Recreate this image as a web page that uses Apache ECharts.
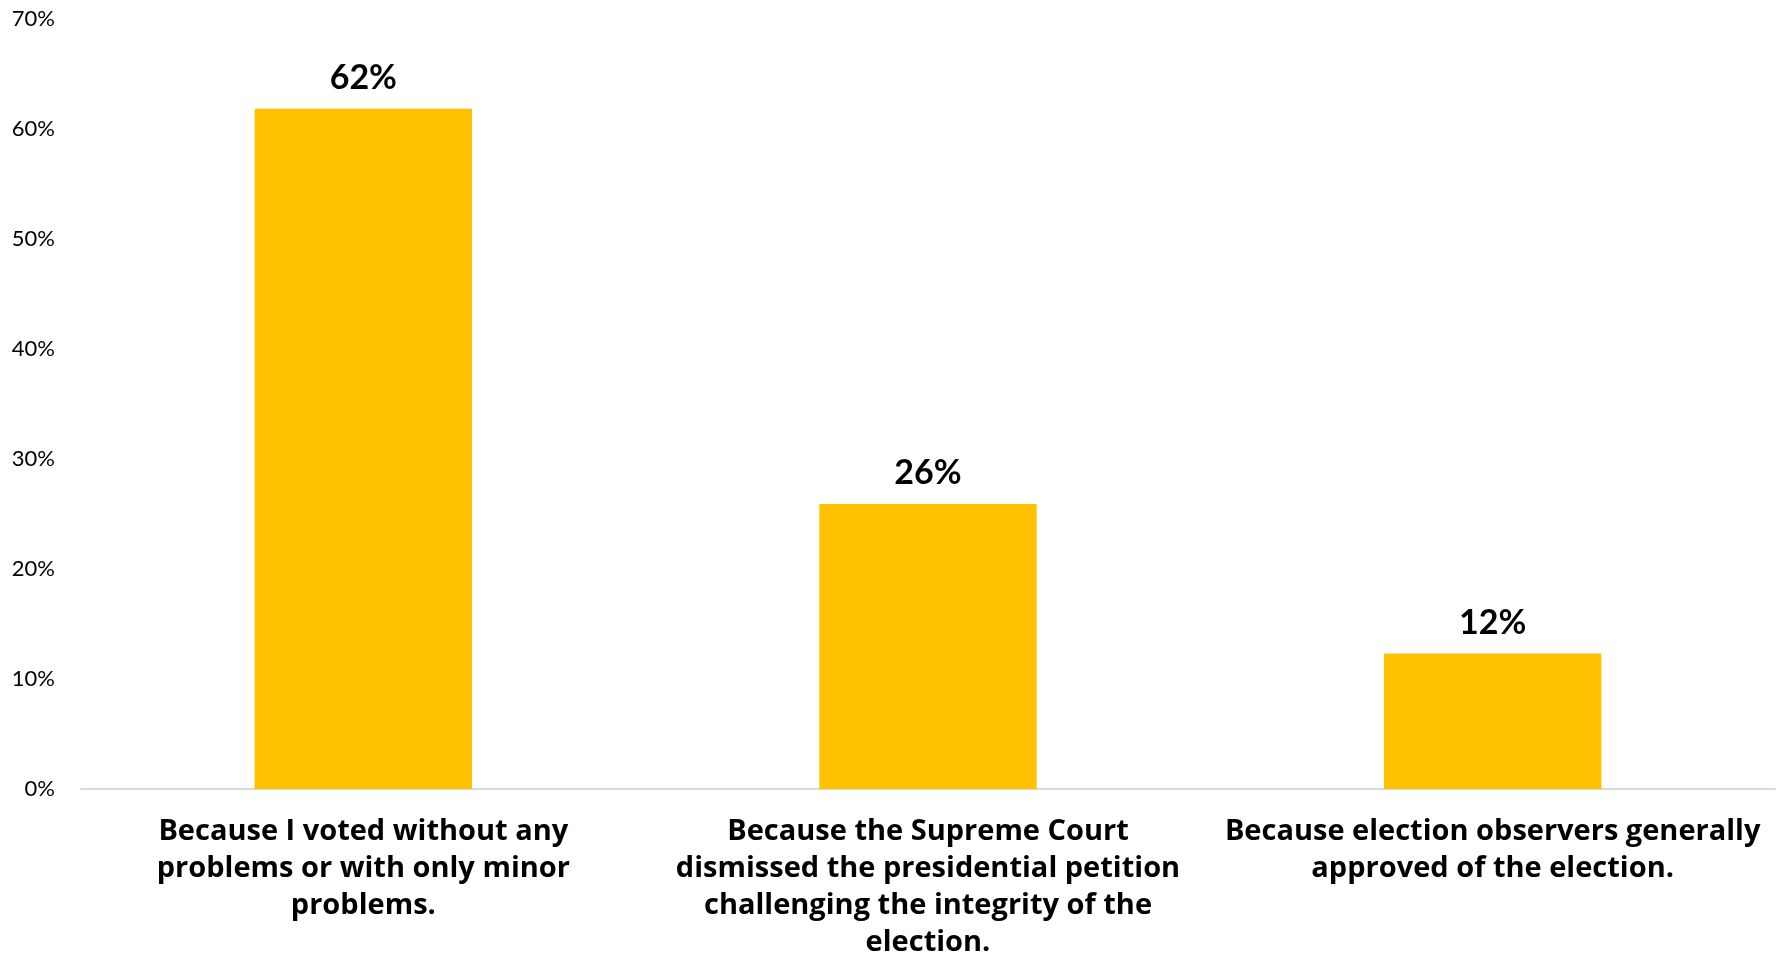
<!DOCTYPE html>
<html>
<head>
<meta charset="utf-8">
<script src="https://cdn.jsdelivr.net/npm/echarts@6/dist/echarts.min.js"></script>
<style>
html,body{margin:0;padding:0;background:#fff;}
#chart{width:1787px;height:955px;}
</style>
</head>
<body>
<div id="chart"></div>
<script>
const categories = [
  "Because I voted without any\nproblems or with only minor\nproblems.",
  "Because the Supreme Court\ndismissed the presidential petition\nchallenging the integrity of the\nelection.",
  "Because election observers generally\napproved of the election."
];
const values = [61.8, 25.9, 12.3];
const yTicks = { min: 0, max: 70, interval: 10 };

const chart = echarts.init(document.getElementById('chart'));
chart.setOption({
  animation: false,
  grid: { left: 81, right: 12, top: 18.5, bottom: 166, containLabel: false, outerBoundsMode: 'none' },
  xAxis: {
    type: 'category',
    data: categories,
    axisLine: { show: true, lineStyle: { color: '#d9d9d9', width: 2 } },
    axisTick: { show: false },
    axisLabel: {
      interval: 0,
      margin: 24,
      color: '#000',
      fontFamily: 'Open Sans',
      fontWeight: 'bold',
      fontSize: 29,
      lineHeight: 37,
      align: 'center'
    }
  },
  yAxis: {
    type: 'value',
    min: yTicks.min, max: yTicks.max, interval: yTicks.interval,
    axisLine: { show: false },
    axisTick: { show: false },
    splitLine: { show: false },
    axisLabel: {
      margin: 26,
      color: '#000',
      fontFamily: 'Lato',
      fontSize: 22,
      formatter: v => v + '%'
    }
  },
  series: [{
    type: 'bar',
    data: values,
    barWidth: '38.5%',
    itemStyle: { color: '#FFC000' },
    label: {
      show: true,
      position: 'top',
      distance: 14,
      color: '#000',
      fontFamily: 'Lato',
      fontWeight: 'bold',
      fontSize: 34,
      formatter: p => Math.round(p.value) + '%'
    }
  }]
});
</script>
</body>
</html>
